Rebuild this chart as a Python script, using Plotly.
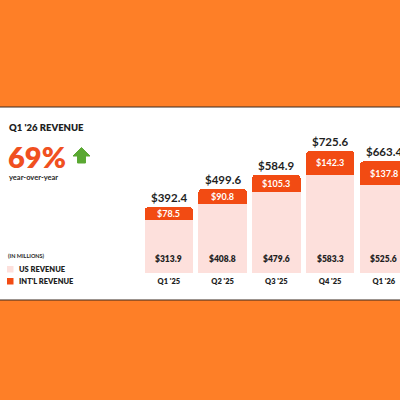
import plotly.graph_objects as go

quarters = ["Q1 '25", "Q2 '25", "Q3 '25", "Q4 '25", "Q1 '26"]
us_revenue = [313.9, 408.8, 479.6, 583.3, 525.6]
intl_revenue = [78.5, 90.8, 105.3, 142.3, 137.8]
total_revenue = [392.4, 499.6, 584.9, 725.6, 663.4]

BG = "#fe7f27"
US_C = "#fde0dc"
INTL_C = "#f24b13"
DARK = "#1f1f1f"
FONT = "Lato"

xs = list(range(len(quarters)))

fig = go.Figure()
fig.add_trace(go.Bar(x=xs, y=us_revenue, marker=dict(color=US_C, line=dict(width=0)),
                     width=0.9, name="US REVENUE", hoverinfo="skip"))
fig.add_trace(go.Bar(x=xs, y=intl_revenue, marker=dict(color=INTL_C, line=dict(width=0)),
                     width=0.9, name="INT'L REVENUE", hoverinfo="skip"))

ann = []
for i, q in enumerate(quarters):
    ann.append(dict(x=i, y=total_revenue[i], xref="x", yref="y", text=f"${total_revenue[i]:.1f}",
                    showarrow=False, yanchor="bottom", yshift=1,
                    font=dict(family=FONT, size=11.5, color=DARK, weight=700)))
    ann.append(dict(x=i, y=us_revenue[i] + intl_revenue[i] / 2, xref="x", yref="y",
                    text=f"${intl_revenue[i]:.1f}", showarrow=False, yanchor="middle",
                    font=dict(family=FONT, size=9, color="white", weight=700)))
    ann.append(dict(x=i, y=0, xref="x", yref="y", text=f"${us_revenue[i]:.1f}",
                    showarrow=False, yanchor="middle", yshift=15,
                    font=dict(family=FONT, size=8.5, color=DARK, weight=800)))

def px(x, y):
    return x / 400, 1 - y / 400

# left panel texts
left_texts = [
    ("Q1 '26 REVENUE", 7, 127, 9.5, DARK, 800),
    ("69%", 6, 156, 29, "#f0501f", 800),
    ("year-over-year", 7, 177, 7.5, DARK, 700),
    ("(IN MILLIONS)", 6, 256, 5.5, DARK, 700),
    ("US REVENUE", 17, 269, 7.5, DARK, 800),
    ("INT'L REVENUE", 17, 281, 7.5, DARK, 800),
]
for t, x, y, s, c, w in left_texts:
    ax, ay = px(x, y)
    ann.append(dict(x=ax, y=ay, xref="paper", yref="paper", text=t, showarrow=False,
                    xanchor="left", yanchor="middle",
                    font=dict(family=FONT, size=s, color=c, weight=w)))

shapes = []
# white card
x0, y0 = px(-5, 107)
x1, y1 = px(405, 300)
shapes.append(dict(type="rect", xref="paper", yref="paper", x0=x0, y0=y1, x1=x1, y1=y0,
                   fillcolor="white", line=dict(color="#3a2a20", width=1.2), layer="below"))
# legend squares
for (yy, col) in [(266, US_C), (278, INTL_C)]:
    a0, b0 = px(7, yy)
    a1, b1 = px(13.5, yy + 6.5)
    shapes.append(dict(type="rect", xref="paper", yref="paper", x0=a0, y0=b1, x1=a1, y1=b0,
                       fillcolor=col, line=dict(width=0)))
# green up arrow
pts = [(81.5, 147.5), (90, 156), (85.5, 156), (85.5, 163), (77.5, 163), (77.5, 156), (73, 156)]
path = "M " + " L ".join(f"{px(a, b)[0]:.4f},{px(a, b)[1]:.4f}" for a, b in pts) + " Z"
shapes.append(dict(type="path", xref="paper", yref="paper", path=path,
                   fillcolor="#5aa832", line=dict(color="#5aa832", width=1)))

fig.update_layout(
    width=400, height=400,
    margin=dict(l=0, r=0, t=0, b=0),
    paper_bgcolor=BG, plot_bgcolor="rgba(0,0,0,0)",
    barmode="stack", barcornerradius=4,
    showlegend=False,
    xaxis=dict(domain=[142 / 400, 1], range=[-0.5, 4.3], tickmode="array", tickvals=xs,
               ticktext=quarters, showgrid=False, zeroline=False, showline=False, ticks="",
               ticklabelstandoff=2,
               tickfont=dict(family=FONT, size=7.5, color=DARK, weight=800), fixedrange=True),
    yaxis=dict(domain=[1 - 273 / 400, 1 - 108 / 400], range=[0, 981], visible=False,
               fixedrange=True),
    annotations=ann, shapes=shapes,
)

fig.write_html("out.html", config={"displayModeBar": False},
               post_script="document.body.style.margin='0';document.body.style.background='#fe7f27';")
